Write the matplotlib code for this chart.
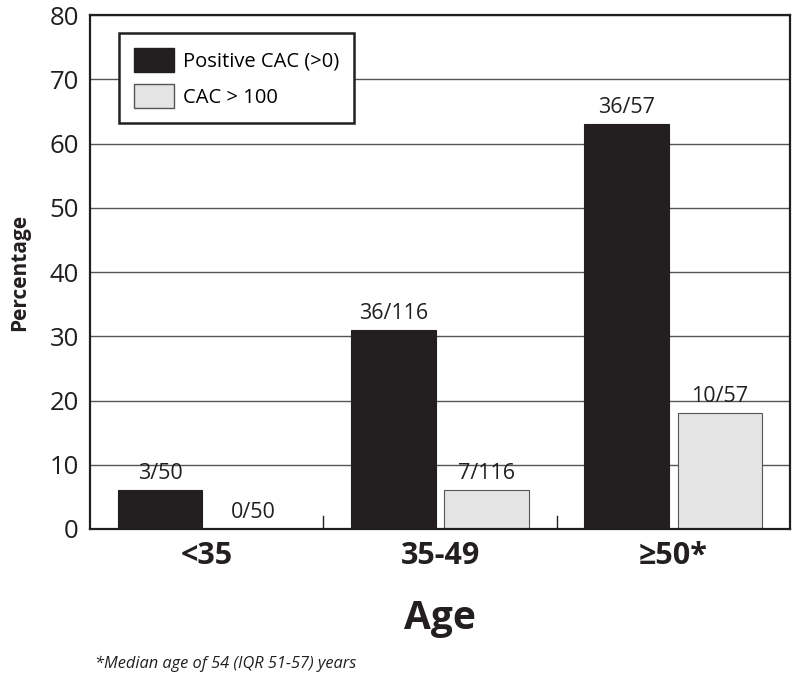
import matplotlib
matplotlib.use("Agg")
import matplotlib.pyplot as plt
import numpy as np
from matplotlib.patches import Patch

plt.rcParams['font.family'] = ['Open Sans', 'DejaVu Sans']

categories = ["<35", "35-49", "\u226550*"]
positive_cac = [6, 31, 63]
cac_over_100 = [0, 6, 18]
labels_pos = ["3/50", "36/116", "36/57"]
labels_100 = ["0/50", "7/116", "10/57"]
yticks = [0, 10, 20, 30, 40, 50, 60, 70, 80]

fig = plt.figure(figsize=(8, 6.87), dpi=100)
ax = fig.add_axes([0.1125, 0.23, 0.875, 0.748])

x = np.arange(len(categories))
w = 0.364
off = 0.2
dark = "#231f20"
light = "#e4e4e4"

ax.set_axisbelow(True)
ax.yaxis.grid(True, color="#555555", linewidth=1.0)
ax.bar(x - off, positive_cac, w, color=dark, edgecolor=dark, linewidth=0.8, zorder=2)
ax.bar(x + off, cac_over_100, w, color=light, edgecolor="#555555", linewidth=0.8, zorder=2)

for xi, v, s in zip(x - off, positive_cac, labels_pos):
    ax.annotate(s, (xi, v), xytext=(0, 4.5), textcoords="offset points",
                ha="center", va="bottom", fontsize=15.5, color="#231f20")
for xi, v, s in zip(x + off, cac_over_100, labels_100):
    ax.annotate(s, (xi, v), xytext=(0, 4.5), textcoords="offset points",
                ha="center", va="bottom", fontsize=15.5, color="#231f20")

# category separator ticks
for sx in [0.5, 1.5]:
    ax.plot([sx, sx], [0, 2], color="#231f20", linewidth=1.0, zorder=3)

ax.set_xlim(-0.5, 2.5)
ax.set_ylim(0, 80)
ax.set_yticks(yticks)
ax.set_yticklabels([str(t) for t in yticks], fontsize=18.5, color="#231f20")
ax.set_xticks(x)
ax.set_xticklabels(categories, fontsize=22, fontweight="bold", color="#231f20")
ax.tick_params(axis="both", length=0, pad=8)
ax.tick_params(axis="x", pad=9)
for sp in ax.spines.values():
    sp.set_color("#231f20")
    sp.set_linewidth(1.6)

ax.set_ylabel("Percentage", fontsize=15, fontweight="bold", color="#231f20", labelpad=14)
ax.set_xlabel("Age", fontsize=28, fontweight="bold", color="#231f20", labelpad=20)

handles = [Patch(facecolor=dark, edgecolor=dark, label="Positive CAC (>0)"),
           Patch(facecolor=light, edgecolor="#555555", label="CAC > 100")]
leg = ax.legend(handles=handles, loc="upper left", bbox_to_anchor=(0.041, 0.965),
                borderaxespad=0, fontsize=14.5, frameon=True, fancybox=False,
                handlelength=2.0, handleheight=1.45, borderpad=0.75,
                labelspacing=0.6, handletextpad=0.45)
leg.get_frame().set_edgecolor("#231f20")
leg.get_frame().set_linewidth(1.8)
leg.get_frame().set_alpha(1)

fig.text(0.119, 0.028, "*Median age of 54 (IQR 51-57) years", fontsize=11.8,
         style="italic", color="#231f20")

fig.savefig("out.png", dpi=100)
